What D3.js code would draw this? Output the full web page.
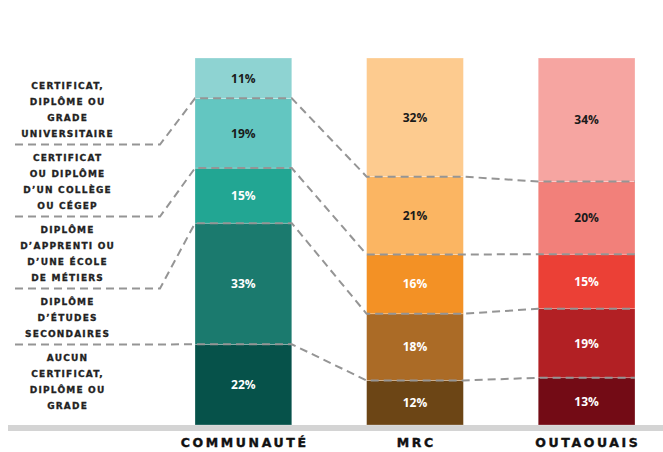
<!DOCTYPE html>
<html>
<head>
<meta charset="utf-8">
<script src="https://cdn.jsdelivr.net/npm/d3@7"></script>
<style>
  body { margin: 0; background: #fff; }
  svg { display: block; }
  .level { font-family: "DejaVu Sans", sans-serif; font-weight: bold; font-size: 9px; letter-spacing: 1.2px; fill: #222; stroke: #222; stroke-width: 0.3px; }
  .cat { font-family: "DejaVu Sans", sans-serif; font-weight: bold; font-size: 12.5px; letter-spacing: 2.6px; fill: #111; stroke: #111; stroke-width: 0.4px; }
  .pct { font-family: "Open Sans", sans-serif; font-weight: 700; font-size: 12px; }
</style>
</head>
<body>
<svg id="chart" width="663" height="452"></svg>
<script>
// levels from bottom to top
const levels = ["aucun", "secondaire", "metiers", "college", "universite"];
const levelLabels = [
  ["AUCUN", "CERTIFICAT,", "DIPLÔME OU", "GRADE"],
  ["DIPLÔME", "D’ÉTUDES", "SECONDAIRES"],
  ["DIPLÔME", "D’APPRENTI OU", "D’UNE ÉCOLE", "DE MÉTIERS"],
  ["CERTIFICAT", "OU DIPLÔME", "D’UN COLLÈGE", "OU CÉGEP"],
  ["CERTIFICAT,", "DIPLÔME OU", "GRADE", "UNIVERSITAIRE"]
];
const categories = ["COMMUNAUTÉ", "MRC", "OUTAOUAIS"];
const communaute = [22, 33, 15, 19, 11];
const mrc = [12, 18, 16, 21, 32];
const outaouais = [13, 19, 15, 20, 34];

const colors = [
  ["#06524a", "#1b7a6e", "#22a693", "#63c6c1", "#8ed3d2"],
  ["#6c4515", "#ab6b26", "#f39125", "#fbb562", "#fdcb8f"],
  ["#730b15", "#b22024", "#eb4036", "#f2807a", "#f6a5a1"]
];
const darkText = [
  [false, false, false, true, true],
  [false, false, false, true, true],
  [false, false, false, true, true]
];

const svg = d3.select("#chart");
const baseY = 425;
const topY = 58;

const table = [communaute, mrc, outaouais].map((vals, i) => {
  const row = { cat: categories[i] };
  levels.forEach((l, j) => (row[l] = vals[j]));
  return row;
});

const series = d3.stack().keys(levels).offset(d3.stackOffsetExpand)(table);

const x = d3.scaleBand().domain(categories).range([195, 635]).paddingInner(0.436);
const y = d3.scaleLinear().domain([0, 1]).range([baseY, topY]);

// baseline
svg.append("rect")
  .attr("x", 8).attr("y", baseY).attr("width", 655).attr("height", 6)
  .attr("fill", "#d4d4d4");

// segments
series.forEach((s, j) => {
  svg.append("g")
    .selectAll("rect")
    .data(s)
    .join("rect")
    .attr("x", (d) => x(d.data.cat))
    .attr("y", (d) => y(d[1]))
    .attr("width", x.bandwidth())
    .attr("height", (d) => y(d[0]) - y(d[1]))
    .attr("fill", (d, i) => colors[i][j])
    .attr("stroke", "rgba(255,255,255,0.45)")
    .attr("stroke-width", 0.6);
});

// left labels layout
const lh = 16, gap = 24;
let cy = 85.5;
const blocks = [];
for (let j = levels.length - 1; j >= 0; j--) {
  const lines = levelLabels[j];
  const ys = lines.map((l, k) => cy + k * lh);
  blocks[j] = ys;
  cy = ys[ys.length - 1] + gap;
}

levelLabels.forEach((lines, j) => {
  svg.append("text")
    .attr("class", "level")
    .attr("text-anchor", "middle")
    .selectAll("tspan")
    .data(lines)
    .join("tspan")
    .attr("x", 67.6)
    .attr("y", (d, k) => blocks[j][k])
    .attr("dy", "0.35em")
    .text((d) => d);
});

// dashed connectors for each boundary
const line = d3.line();
for (let j = 0; j < levels.length - 1; j++) {
  const sepY = (blocks[j][0] + blocks[j + 1][blocks[j + 1].length - 1]) / 2 - 1;
  const pts = [[15, sepY], [160, sepY]];
  series[j].forEach((d) => {
    const by = y(d[1]);
    pts.push([x(d.data.cat), by]);
    pts.push([x(d.data.cat) + x.bandwidth(), by]);
  });
  svg.append("path")
    .attr("d", line(pts))
    .attr("fill", "none")
    .attr("stroke", "#959595")
    .attr("stroke-width", 2)
    .attr("stroke-dasharray", "8,5");
}

// percent labels
series.forEach((s, j) => {
  svg.append("g")
    .selectAll("text")
    .data(s)
    .join("text")
    .attr("class", "pct")
    .attr("text-anchor", "middle")
    .attr("x", (d) => x(d.data.cat) + x.bandwidth() / 2)
    .attr("y", (d) => (y(d[0]) + y(d[1])) / 2)
    .attr("dy", "0.36em")
    .attr("fill", (d, i) => (darkText[i][j] ? "#1a1a1a" : "#ffffff"))
    .text((d) => d.data[levels[j]] + "%");
});

// category labels
svg.append("g")
  .selectAll("text")
  .data(categories)
  .join("text")
  .attr("class", "cat")
  .attr("text-anchor", "middle")
  .attr("x", (d) => x(d) + x.bandwidth() / 2 + 1.3)
  .attr("y", 442)
  .attr("dy", "0.36em")
  .text((d) => d);
</script>
</body>
</html>
